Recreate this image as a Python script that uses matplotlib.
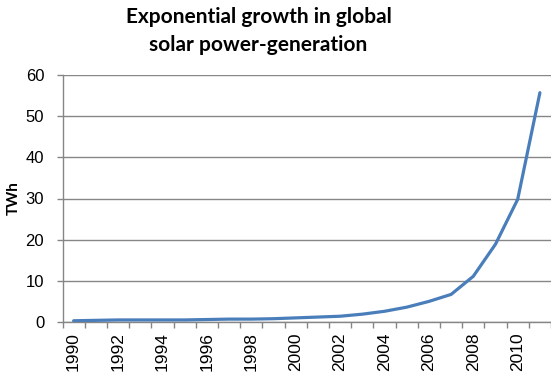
import matplotlib
matplotlib.use("Agg")
import matplotlib.pyplot as plt
import numpy as np

years = list(range(1990, 2012))
twh = [0.3, 0.4, 0.5, 0.5, 0.5, 0.5, 0.6, 0.7, 0.7, 0.8, 1.0, 1.2,
       1.4, 1.9, 2.6, 3.6, 5.0, 6.7, 11.1, 18.9, 29.8, 55.7]
yticks = [0, 10, 20, 30, 40, 50, 60]
title_lines = ["Exponential growth in global", "solar power-generation"]
ylabel = "TWh"

plt.rcParams['font.family'] = ['Liberation Sans', 'DejaVu Sans']

fig = plt.figure(figsize=(5.51, 3.84), dpi=100)
left, right, top, bottom = 62.5, 551, 75, 322
ax = fig.add_axes([left / 551, 1 - bottom / 384, (right - left) / 551, (bottom - top) / 384])

x = np.arange(len(years))
ax.plot(x, twh, color='#4a7ebb', lw=2.3, solid_joinstyle='round',
        solid_capstyle='round', zorder=3)

ax.set_xlim(-0.5, len(years) - 0.5)
ax.set_ylim(0, 60)
ax.set_yticks(yticks)
ax.set_yticklabels([str(v) for v in yticks], fontsize=12)
ax.yaxis.grid(True, color='#868686', lw=1)
ax.set_axisbelow(True)

ax.set_xticks(x[::2])
ax.set_xticklabels([str(y) for y in years[::2]], rotation=90, fontsize=12.5)
ax.set_xticks(np.arange(-0.5, len(years) + 0.5, 1), minor=True)
ax.tick_params(axis='x', which='major', length=0, pad=7.5)
ax.tick_params(axis='x', which='minor', length=4.2, color='#868686', width=1)
ax.tick_params(axis='y', length=4.2, color='#868686', width=1, pad=9)

for s in ['top', 'right']:
    ax.spines[s].set_visible(False)
for s in ['left', 'bottom']:
    ax.spines[s].set_color('#868686')
    ax.spines[s].set_linewidth(1)

fig.text(14 / 551, 1 - 198.5 / 384, ylabel, rotation=90, ha='center', va='center',
         fontsize=11, fontweight='bold', family=['Lato', 'DejaVu Sans'])
fig.text(258.5 / 551, 1 - 17 / 384, title_lines[0], ha='center', va='center',
         fontsize=15, fontweight='bold', family=['Lato', 'DejaVu Sans'])
fig.text(258.5 / 551, 1 - 45 / 384, title_lines[1], ha='center', va='center',
         fontsize=15, fontweight='bold', family=['Lato', 'DejaVu Sans'])

fig.savefig('out.png', dpi=100)
